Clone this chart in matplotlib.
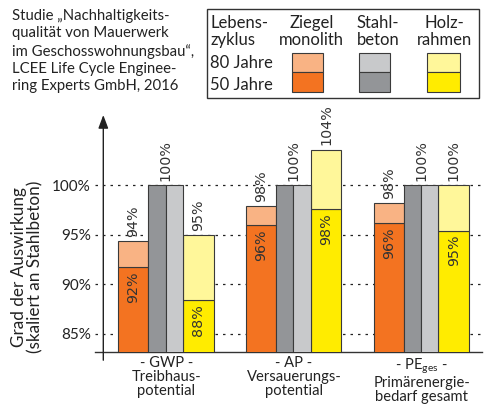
import matplotlib
matplotlib.use('Agg')
import matplotlib.pyplot as plt
from matplotlib.patches import Rectangle

plt.rcParams['font.family'] = ['Lato', 'DejaVu Sans']
plt.rcParams['mathtext.fontset'] = 'custom'
plt.rcParams['mathtext.rm'] = 'Lato'

# impact relative to reinforced concrete (Stahlbeton = 100 %)
categories = ['- GWP -\nTreibhaus-\npotential',
              '- AP -\nVersauerungs-\npotential',
              '- PE$_\\mathregular{ges}$ -\nPrimärenergie-\nbedarf gesamt']
ziegel_50 = [91.7, 96.0, 96.2]
ziegel_80 = [94.4, 97.9, 98.2]
stahl_50 = [100.0, 100.0, 100.0]
stahl_80 = [100.0, 100.0, 100.0]
holz_50 = [88.4, 97.6, 95.4]
holz_80 = [95.0, 103.6, 100.0]
yticks = [85, 90, 95, 100]

C_ORANGE, C_ORANGE_L = '#F37321', '#F9B384'
C_GRAY, C_GRAY_L = '#939598', '#C8C9CB'
C_YEL, C_YEL_L = '#FFEC00', '#FFF79A'
EDGE = '#3a3a3a'
TXT = '#222222'
LBL = dict(rotation=90, ha='center', fontsize=10.3, family='DejaVu Sans',
           color='#333333', textcoords='offset points')

BASE = 80.0
YMIN, YMAX = 83.12, 107.1
YAXIS_X = -0.4926

fig = plt.figure(figsize=(4.86, 4.05), dpi=100)
ax = fig.add_axes([95 / 486, (405 - 352.3) / 405, (482 - 95) / 486, (352.3 - 115) / 405])
ax.set_xlim(-0.5576, 2.473)
ax.set_ylim(YMIN, YMAX)

x = list(range(len(categories)))
bar_kw = dict(align='edge', edgecolor=EDGE, linewidth=0.8, zorder=3)


def stacked(x0, width, low, high, c_low, c_high, label_x):
    for i in x:
        ax.bar(i + x0, low[i] - BASE, width, bottom=BASE, color=c_low, **bar_kw)
        ax.bar(i + x0, high[i] - low[i], width, bottom=low[i], color=c_high, **bar_kw)
        ax.annotate(f'{high[i]:.0f}%', (i + label_x, high[i]), xytext=(0, 3),
                    va='bottom', **LBL)
        ax.annotate(f'{low[i]:.0f}%', (i + label_x, low[i]), xytext=(0, -3),
                    va='top', zorder=4, **LBL)


stacked(-0.375, 0.235, ziegel_50, ziegel_80, C_ORANGE, C_ORANGE_L, -0.2575)
stacked(0.132, 0.240, holz_50, holz_80, C_YEL, C_YEL_L, 0.252)

for i in x:
    ax.bar(i - 0.140, stahl_50[i] - BASE, 0.136, bottom=BASE, color=C_GRAY, **bar_kw)
    ax.bar(i - 0.004, stahl_80[i] - BASE, 0.136, bottom=BASE, color=C_GRAY_L, **bar_kw)
    ax.annotate(f'{max(stahl_50[i], stahl_80[i]):.0f}%', (i - 0.004, stahl_80[i]),
                xytext=(0, 3), va='bottom', **LBL)

# axes
for s in ['left', 'right', 'top']:
    ax.spines[s].set_visible(False)
ax.spines['bottom'].set_color('#333333')
ax.spines['bottom'].set_linewidth(1.0)
ax.annotate('', xy=(YAXIS_X, YMAX), xytext=(YAXIS_X, YMIN - 0.8),
            arrowprops=dict(arrowstyle='-|>,head_length=0.8,head_width=0.3',
                            color='#222222', lw=1.0, shrinkA=0, shrinkB=0),
            annotation_clip=False)

ax.set_yticks(yticks, [f'{v}%' for v in yticks])
ax.tick_params(axis='y', length=0, pad=3, labelsize=11, labelcolor=TXT)
ax.yaxis.grid(True, color='#222222', linestyle=(0, (2, 4)), linewidth=0.9)
ax.set_axisbelow(True)

ax.set_xticks(x, categories)
ax.tick_params(axis='x', length=0, pad=3, labelsize=10.6, labelcolor=TXT)
for lbl in ax.get_xticklabels():
    lbl.set_linespacing(0.98)

fig.text(27 / 486, 1 - 267 / 405, 'Grad der Auswirkung\n(skaliert an Stahlbeton)',
         rotation=90, ha='center', va='center', fontsize=12.3, color=TXT,
         linespacing=1.0)

# header: source note and legend box, drawn in pixel coordinates
ov = fig.add_axes([0, 0, 1, 1], zorder=5)
ov.set_xlim(0, 486)
ov.set_ylim(405, 0)
ov.axis('off')

ov.text(12, 51.3, 'Studie \u201eNachhaltigkeits-\nqualität von Mauerwerk\n'
        'im Geschosswohnungsbau\u201c,\nLCEE Life Cycle Enginee-\nring Experts GmbH, 2016',
        ha='left', va='center', fontsize=10.7, color=TXT, linespacing=1.3)

ov.add_patch(Rectangle((206.7, 9.3), 272.3, 88.4, fill=False, edgecolor='#333333', lw=1.0))
head_kw = dict(va='center', fontsize=12, color=TXT, linespacing=1.05)
ov.text(210, 31.5, 'Lebens-\nzyklus', ha='left', **head_kw)
ov.text(311.7, 31.5, 'Ziegel\nmonolith', ha='center', **head_kw)
ov.text(378, 31.5, 'Stahl-\nbeton', ha='center', **head_kw)
ov.text(444, 31.5, 'Holz-\nrahmen', ha='center', **head_kw)
ov.text(210, 62.7, '80 Jahre', ha='left', va='center', fontsize=12, color=TXT)
ov.text(210, 85.0, '50 Jahre', ha='left', va='center', fontsize=12, color=TXT)

for x0, w, c_hi, c_lo in [(291.7, 31, C_ORANGE_L, C_ORANGE),
                          (359.3, 30.7, C_GRAY_L, C_GRAY),
                          (427.3, 32.7, C_YEL_L, C_YEL)]:
    ov.add_patch(Rectangle((x0, 53.3), w, 19, facecolor=c_hi, edgecolor=EDGE, lw=0.8))
    ov.add_patch(Rectangle((x0, 72.3), w, 20, facecolor=c_lo, edgecolor=EDGE, lw=0.8))

fig.savefig('out.png', dpi=100)
